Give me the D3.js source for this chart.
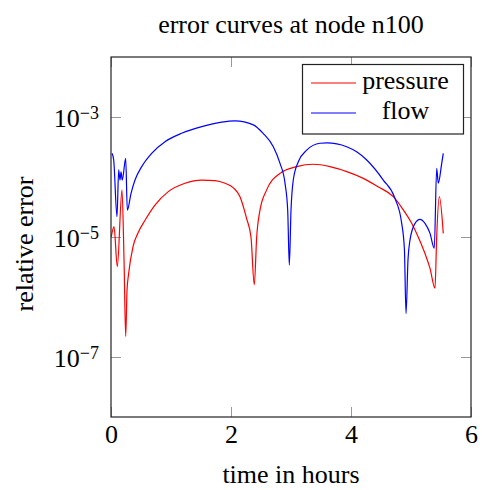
<!DOCTYPE html>
<html>
<head>
<meta charset="utf-8">
<script src="https://cdn.jsdelivr.net/npm/d3@7"></script>
<style>
  body { margin: 0; background: #fff; }
  text { font-family: "Liberation Serif", "DejaVu Serif", serif; fill: #000; }
</style>
</head>
<body>
<svg width="482" height="490"></svg>
<script>
// time (hours) and relative error
const pressureTime = [0.005, 0.05, 0.105, 0.183, 0.217, 0.245, 0.267, 0.295, 0.367, 0.45, 0.567, 0.733, 0.955,
  1.233, 1.512, 1.733, 1.9, 2.04, 2.15, 2.262, 2.333, 2.388, 2.428, 2.483, 2.595, 2.817, 3.095, 3.372, 3.65, 3.93,
  4.205, 4.45, 4.705, 4.86, 5.012, 5.12, 5.233, 5.317, 5.4, 5.428, 5.472, 5.538]
const pressureErr = [1.01e-5, 1.49e-5, 3.2e-6, 6.1e-5, 4.2e-6, 2.2e-7, 1.3e-6, 2.5e-6, 6.9e-6, 1.17e-5, 1.9e-5, 3.4e-5, 5.7e-5,
  7.85e-5, 8.9e-5, 8.7e-5, 7.85e-5, 6.6e-5, 4.7e-5, 2.0e-5, 1.0e-5, 1.6e-6, 1.0e-5, 2.8e-5, 6.1e-5, 1.15e-4, 1.49e-4, 1.63e-4, 1.49e-4, 1.23e-4,
  9.5e-5, 6.9e-5, 4.7e-5, 2.95e-5, 1.69e-5, 1.0e-5, 5.3e-6, 3.0e-6, 1.4e-6, 1.0e-5, 4.7e-5, 1.15e-5]

const flowTime = [0.017, 0.045, 0.1, 0.128, 0.15, 0.167, 0.188, 0.245, 0.272, 0.333, 0.4, 0.512, 0.678, 0.9,
  1.178, 1.512, 1.845, 2.067, 2.372, 2.538, 2.705, 2.817, 2.9, 2.945, 2.972, 3.0, 3.038, 3.122, 3.262, 3.483, 3.6,
  3.928, 4.1, 4.262, 4.538, 4.733, 4.845, 4.89, 4.917, 4.95, 4.983, 5.067, 5.15, 5.233, 5.317, 5.388,
  5.428, 5.455, 5.512, 5.538]
const flowErr = [2.48e-4, 1.92e-4, 2.18e-5, 1.31e-4, 8.9e-5, 1.22e-4, 8.9e-5, 2.05e-4, 2.8e-5, 5.3e-5, 8.9e-5, 1.49e-4, 2.48e-4, 3.87e-4,
  5.35e-4, 6.9e-4, 8.2e-4, 8.6e-4, 7.4e-4, 5.3e-4, 3.2e-4, 1.69e-4, 7.9e-5, 2.8e-5, 3.4e-6, 2.8e-5, 8.9e-5, 1.8e-4, 2.8e-4, 3.65e-4, 3.7e-4,
  3.2e-4, 2.6e-4, 1.92e-4, 8.9e-5, 4.4e-5, 1.69e-5, 6.3e-6, 5.3e-7, 4.2e-6, 8.9e-6, 1.69e-5, 1.97e-5, 1.69e-5, 1.15e-5, 6.5e-6,
  1.4e-4, 7.9e-5, 1.69e-4, 2.48e-4]

const xTicks = [0, 2, 4, 6]
const yTicks = [1e-3, 1e-5, 1e-7]
const seriesNames = ["pressure", "flow"]
const seriesColors = ["#ff0000", "#0000ff"]

const plotLeft = 111, plotRight = 471, plotTop = 57, plotBottom = 417

const svg = d3.select("svg")

const x = d3.scaleLinear().domain([0, 6]).range([plotLeft, plotRight])
const y = d3.scaleLog().domain([1e-8, 1e-2]).range([plotBottom, plotTop])

// ticks on all four sides, pointing inwards
const styleTicks = g => {
  g.select(".domain").remove()
  g.selectAll(".tick line").attr("stroke", "#999").attr("stroke-width", 1)
}

svg.append("g")
  .attr("transform", `translate(0,${plotBottom})`)
  .call(d3.axisBottom(x).tickValues(xTicks).tickSize(-10).tickPadding(8).tickFormat(d3.format("d")))
  .call(styleTicks)
  .call(g => g.selectAll("text").attr("font-size", 26).attr("font-family", null).attr("fill", "#000"))

svg.append("g")
  .attr("transform", `translate(0,${plotTop})`)
  .call(d3.axisTop(x).tickValues(xTicks).tickSize(-10).tickFormat(""))
  .call(styleTicks)

svg.append("g")
  .attr("transform", `translate(${plotLeft},0)`)
  .call(d3.axisLeft(y).tickValues(yTicks).tickSize(-10).tickPadding(12).tickFormat(""))
  .call(styleTicks)
  .call(g => g.selectAll(".tick text").each(function (d) {
    const t = d3.select(this).attr("font-size", 26).attr("font-family", null).attr("fill", "#000").attr("dy", "0.36em")
    t.text(null)
    t.append("tspan").text("10")
    t.append("tspan").attr("font-size", 18).attr("dy", -8).text("\u2212" + Math.round(-Math.log10(d)))
  }))

svg.append("g")
  .attr("transform", `translate(${plotRight},0)`)
  .call(d3.axisRight(y).tickValues(yTicks).tickSize(-10).tickFormat(""))
  .call(styleTicks)

// curves
const line = d3.line().x(d => x(d[0])).y(d => y(d[1])).curve(d3.curveMonotoneX)
const series = [d3.zip(pressureTime, pressureErr), d3.zip(flowTime, flowErr)]

svg.append("g").selectAll("path")
  .data(series)
  .enter()
  .append("path")
  .attr("d", line)
  .attr("fill", "none")
  .attr("stroke", (d, i) => seriesColors[i])
  .attr("stroke-width", 1.2)
  .attr("stroke-linejoin", "round")

// frame
svg.append("rect")
  .attr("x", plotLeft).attr("y", plotTop)
  .attr("width", plotRight - plotLeft).attr("height", plotBottom - plotTop)
  .attr("fill", "none").attr("stroke", "#222").attr("stroke-width", 1.2)

// legend
const legend = svg.append("g")
legend.append("rect")
  .attr("x", 302.5).attr("y", 64.5).attr("width", 161).attr("height", 69.5)
  .attr("fill", "#fff").attr("stroke", "#222").attr("stroke-width", 1.2)

const items = legend.selectAll(".item")
  .data(seriesNames)
  .enter()
  .append("g")
  .attr("class", "item")
  .attr("transform", (d, i) => `translate(0,${83 + i * 30})`)

items.append("line")
  .attr("x1", 311).attr("x2", 356)
  .attr("stroke", (d, i) => seriesColors[i])
  .attr("stroke-width", 1.2)

items.append("text")
  .attr("x", 405.5).attr("y", 6)
  .attr("text-anchor", "middle")
  .attr("font-size", 26)
  .text(d => d)

// titles
svg.append("text")
  .attr("x", (plotLeft + plotRight) / 2).attr("y", 33)
  .attr("text-anchor", "middle").attr("font-size", 26)
  .text("error curves at node n100")

svg.append("text")
  .attr("x", (plotLeft + plotRight) / 2).attr("y", 483)
  .attr("text-anchor", "middle").attr("font-size", 26)
  .text("time in hours")

svg.append("text")
  .attr("transform", `translate(33,244) rotate(-90)`)
  .attr("text-anchor", "middle").attr("font-size", 26)
  .text("relative error")
</script>
</body>
</html>
